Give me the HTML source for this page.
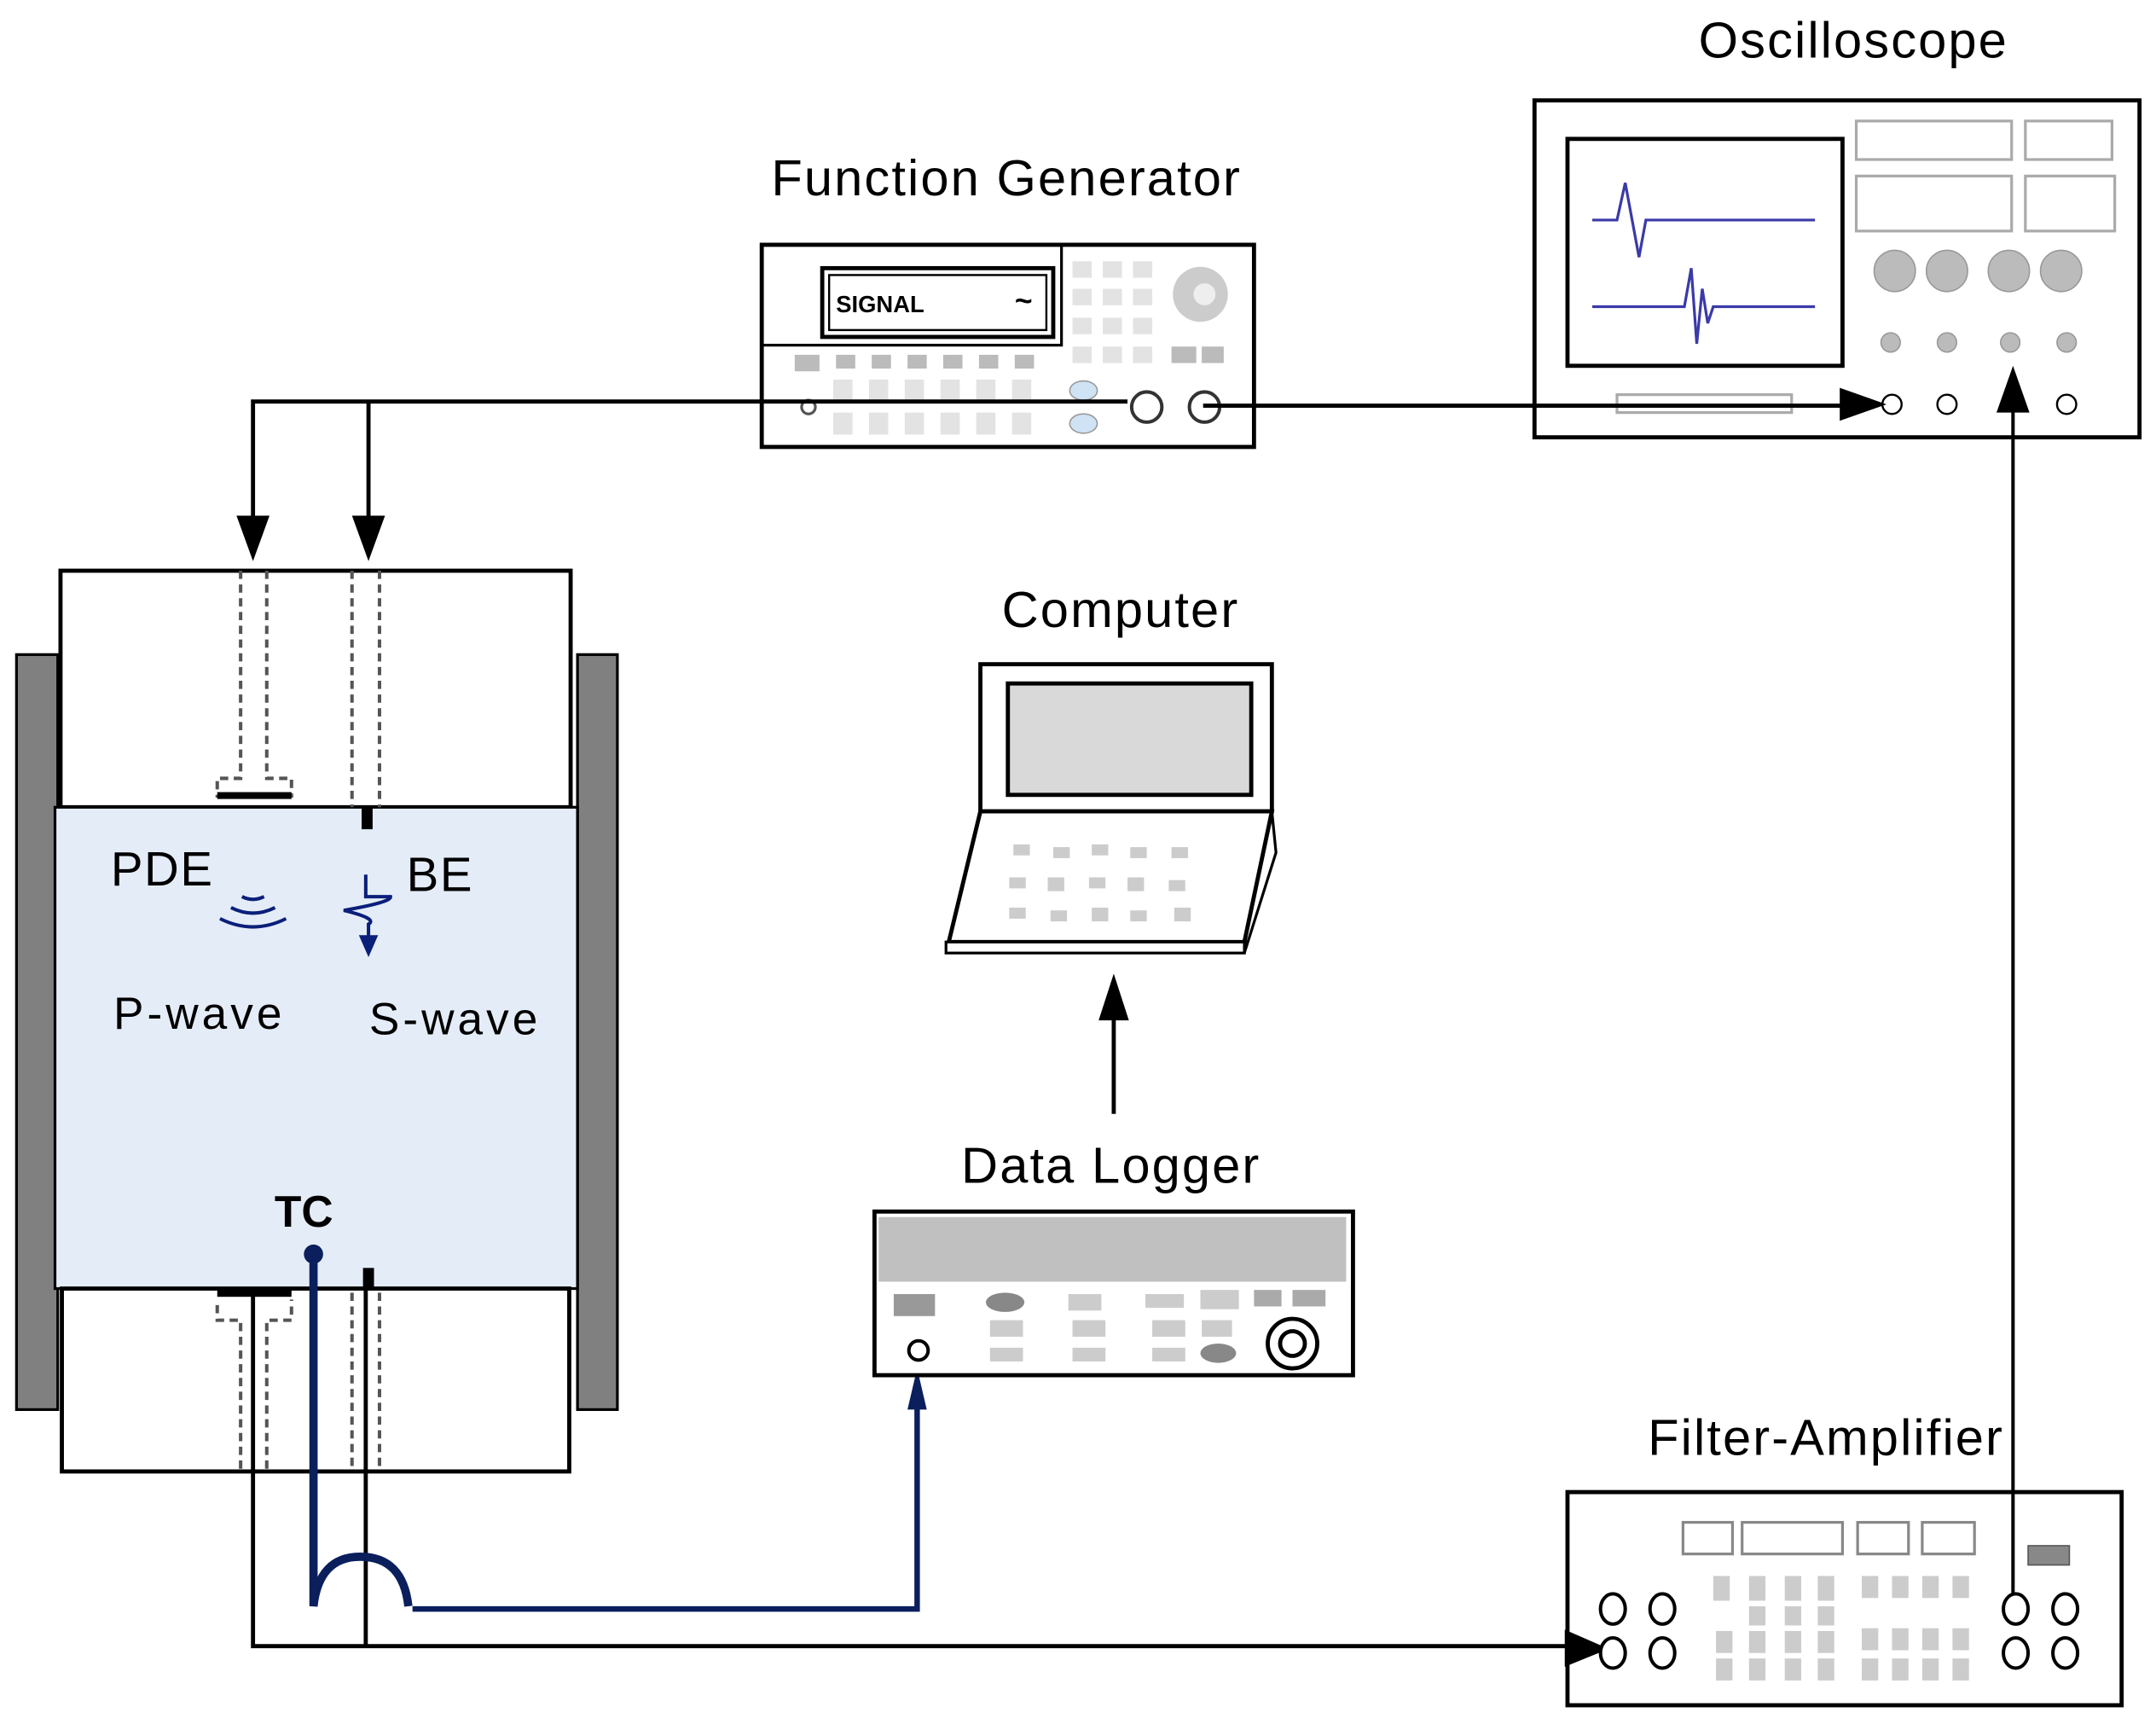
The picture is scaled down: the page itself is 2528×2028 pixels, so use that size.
<!DOCTYPE html>
<html><head><meta charset="utf-8"><style>html,body{margin:0;padding:0;background:#fff}svg{display:block}text{font-family:"Liberation Sans",sans-serif}</style></head><body>
<svg width="2528" height="2028" viewBox="0 0 1568 1258" preserveAspectRatio="none" xmlns="http://www.w3.org/2000/svg">
<rect width="1568" height="1258" fill="#fff"/>
<!-- Oscilloscope -->
<text x="1348" y="42" font-size="37" letter-spacing="1.3" text-anchor="middle">Oscilloscope</text>
<rect x="1116" y="73" width="440" height="245" fill="#fff" stroke="#000" stroke-width="3"/>
<rect x="1140" y="101" width="200" height="165" fill="#fff" stroke="#000" stroke-width="3"/>
<path d="M1158,160 H1176 L1182,133 L1192,187 L1197,160 H1320" fill="none" stroke="#3a3aa8" stroke-width="2"/>
<path d="M1158,223 H1225 L1230,195 L1234,250 L1238,210 L1242,235 L1246,223 H1320" fill="none" stroke="#3a3aa8" stroke-width="2"/>
<g fill="#fff" stroke="#aaa" stroke-width="2">
<rect x="1350" y="88" width="113" height="28"/><rect x="1473" y="88" width="63" height="28"/>
<rect x="1350" y="128" width="113" height="40"/><rect x="1473" y="128" width="65" height="40"/>
<rect x="1176" y="287" width="127" height="13"/></g>
<g fill="#bbb" stroke="#999"><circle cx="1378" cy="197" r="15"/><circle cx="1416" cy="197" r="15"/><circle cx="1461" cy="197" r="15"/><circle cx="1499" cy="197" r="15"/>
<circle cx="1375" cy="249" r="7"/><circle cx="1416" cy="249" r="7"/><circle cx="1462" cy="249" r="7"/><circle cx="1503" cy="249" r="7"/></g>
<g fill="#fff" stroke="#000" stroke-width="1.5"><circle cx="1376" cy="294" r="7"/><circle cx="1416" cy="294" r="7"/><circle cx="1503" cy="294" r="7"/></g>
<!-- Function generator -->
<text x="732" y="142" font-size="37" letter-spacing="1.3" text-anchor="middle">Function Generator</text>
<rect x="554" y="178" width="358" height="147" fill="#fff" stroke="#000" stroke-width="3"/>
<path d="M554,251 H772 V178" fill="none" stroke="#000" stroke-width="2"/>
<rect x="598" y="195" width="168" height="50" fill="#fff" stroke="#000" stroke-width="3"/>
<rect x="603" y="200" width="158" height="40" fill="#fff" stroke="#000" stroke-width="1.5"/>
<text x="608" y="227" font-size="17" font-weight="bold">SIGNAL</text>
<text x="738" y="226" font-size="22" font-weight="bold">~</text>
<g fill="#e3e3e3"><rect x="780" y="190" width="14" height="12"/><rect x="802" y="190" width="14" height="12"/><rect x="824" y="190" width="14" height="12"/>
<rect x="780" y="210" width="14" height="12"/><rect x="802" y="210" width="14" height="12"/><rect x="824" y="210" width="14" height="12"/>
<rect x="780" y="231" width="14" height="12"/><rect x="802" y="231" width="14" height="12"/><rect x="824" y="231" width="14" height="12"/>
<rect x="780" y="252" width="14" height="12"/><rect x="802" y="252" width="14" height="12"/><rect x="824" y="252" width="14" height="12"/>
<rect x="606" y="276" width="14" height="16"/><rect x="632" y="276" width="14" height="16"/><rect x="658" y="276" width="14" height="16"/><rect x="684" y="276" width="14" height="16"/><rect x="710" y="276" width="14" height="16"/><rect x="736" y="276" width="14" height="16"/>
<rect x="606" y="300" width="14" height="16"/><rect x="632" y="300" width="14" height="16"/><rect x="658" y="300" width="14" height="16"/><rect x="684" y="300" width="14" height="16"/><rect x="710" y="300" width="14" height="16"/><rect x="736" y="300" width="14" height="16"/></g>
<g fill="#bbb"><rect x="578" y="258" width="18" height="12"/><rect x="608" y="258" width="14" height="10"/><rect x="634" y="258" width="14" height="10"/><rect x="660" y="258" width="14" height="10"/><rect x="686" y="258" width="14" height="10"/><rect x="712" y="258" width="14" height="10"/><rect x="738" y="258" width="14" height="10"/>
<rect x="852" y="252" width="18" height="12"/><rect x="874" y="252" width="16" height="12"/></g>
<circle cx="873" cy="214" r="20" fill="#ccc"/><circle cx="876" cy="214" r="8" fill="#eee"/>
<ellipse cx="788" cy="284" rx="10" ry="7" fill="#cfe3f5" stroke="#999"/><ellipse cx="788" cy="308" rx="10" ry="7" fill="#cfe3f5" stroke="#999"/>
<circle cx="588" cy="296" r="5" fill="#fff" stroke="#555" stroke-width="2"/>
<circle cx="834" cy="296" r="11" fill="#fff" stroke="#333" stroke-width="2.5"/>
<circle cx="876" cy="296" r="11" fill="#fff" stroke="#333" stroke-width="2.5"/>
<!-- wires top -->
<path d="M820,292 H184 V400" fill="none" stroke="#000" stroke-width="3"/>
<path d="M268,292 V400" fill="none" stroke="#000" stroke-width="3"/>
<path d="M172,375 L196,375 L184,408z M256,375 L280,375 L268,408z" fill="#000"/>
<path d="M875,295 H1345" stroke="#000" stroke-width="3"/>
<path d="M1338,282 L1372,294 L1338,306z" fill="#000"/>
<!-- Cell -->
<rect x="12" y="476" width="30" height="549" fill="#808080" stroke="#000" stroke-width="2"/>
<rect x="420" y="476" width="29" height="549" fill="#808080" stroke="#000" stroke-width="2"/>
<rect x="44" y="415" width="371" height="172" fill="#fff" stroke="#000" stroke-width="3"/>
<rect x="40" y="587" width="380" height="350" fill="#e4ecf7" stroke="#000" stroke-width="2"/>
<rect x="45" y="937" width="369" height="133" fill="#fff" stroke="#000" stroke-width="3"/>
<g fill="none" stroke="#555" stroke-width="2.5" stroke-dasharray="6,4">
<path d="M175,415 V566 H158 V580"/><path d="M194,415 V566 H212 V580"/>
<path d="M256,415 V587"/><path d="M276,415 V587"/>
<path d="M175,1068 V960 H158 V945"/><path d="M194,1068 V960 H212 V945"/>
<path d="M256,940 V1068"/><path d="M276,940 V1068"/>
</g>
<rect x="158" y="576" width="54" height="5" fill="#000"/>
<rect x="158" y="938" width="54" height="5" fill="#000"/>
<rect x="263" y="587" width="8" height="16" fill="#000"/>
<rect x="264" y="922" width="8" height="15" fill="#000"/>
<text x="118" y="644" font-size="35" letter-spacing="1" text-anchor="middle">PDE</text>
<text x="320" y="648" font-size="35" letter-spacing="1" text-anchor="middle">BE</text>
<text x="145" y="748" font-size="33" letter-spacing="2.5" text-anchor="middle">P-wave</text>
<text x="331" y="752" font-size="33" letter-spacing="2.5" text-anchor="middle">S-wave</text>
<text x="221" y="892" font-size="32" font-weight="bold" text-anchor="middle">TC</text>
<g fill="none" stroke="#0a1f7a" stroke-width="2.5"><path d="M160,668 Q184,680 208,668"/><path d="M168,660 Q184,668 200,660"/><path d="M176,652 Q184,656 192,652"/>
<path d="M266,636 V652 H284 Q285,656 250,662 Q275,668 268,672 V685"/></g>
<path d="M261,680 L275,680 L268,696z" fill="#0a1f7a"/>
<!-- bottom wires -->
<path d="M184,942 V1197 H1140" fill="none" stroke="#000" stroke-width="3"/>
<path d="M266,925 V1197" stroke="#000" stroke-width="3"/>
<circle cx="228" cy="912" r="7" fill="#0a1f5c"/>
<path d="M228,912 V1168 Q232,1132 262,1132 Q293,1132 297,1168" fill="none" stroke="#0a1f5c" stroke-width="6"/>
<path d="M300,1170 H667 V1020" fill="none" stroke="#0a1f5c" stroke-width="4"/>
<path d="M660,1025 L667,995 L674,1025z" fill="#0a1f5c"/>
<!-- Computer -->
<text x="815" y="456" font-size="37" letter-spacing="1.3" text-anchor="middle">Computer</text>
<rect x="713" y="483" width="212" height="107" fill="#fff" stroke="#000" stroke-width="3"/>
<rect x="733" y="497" width="177" height="81" fill="#d9d9d9" stroke="#000" stroke-width="3"/>
<path d="M713,590 H925 L905,685 H690z" fill="#fff" stroke="#000" stroke-width="3"/>
<path d="M925,590 L928,620 L905,693" fill="none" stroke="#000" stroke-width="2"/>
<rect x="688" y="685" width="217" height="8" fill="#fff" stroke="#000" stroke-width="2"/>
<g fill="#ccc"><rect x="737" y="614" width="12" height="8"/><rect x="766" y="616" width="12" height="8"/><rect x="794" y="614" width="12" height="8"/><rect x="822" y="616" width="12" height="8"/><rect x="852" y="616" width="12" height="8"/>
<rect x="734" y="638" width="12" height="8"/><rect x="762" y="638" width="12" height="10"/><rect x="792" y="638" width="12" height="8"/><rect x="820" y="638" width="12" height="10"/><rect x="850" y="640" width="12" height="8"/>
<rect x="734" y="660" width="12" height="8"/><rect x="764" y="662" width="12" height="8"/><rect x="794" y="660" width="12" height="10"/><rect x="822" y="662" width="12" height="8"/><rect x="854" y="660" width="12" height="10"/></g>
<path d="M810,810 V735" stroke="#000" stroke-width="3"/>
<path d="M799,742 L810,708 L821,742z" fill="#000"/>
<!-- Data logger -->
<text x="808" y="860" font-size="37" letter-spacing="1.3" text-anchor="middle">Data Logger</text>
<rect x="636" y="881" width="348" height="119" fill="#fff" stroke="#000" stroke-width="3"/>
<rect x="639" y="885" width="340" height="47" fill="#c0c0c0"/>
<g fill="#ccc"><rect x="650" y="941" width="30" height="16" fill="#999"/><ellipse cx="731" cy="947" rx="14" ry="7" fill="#888"/>
<rect x="777" y="941" width="24" height="12"/><rect x="833" y="941" width="28" height="10"/><rect x="873" y="938" width="28" height="14"/><rect x="912" y="938" width="20" height="12" fill="#aaa"/><rect x="940" y="938" width="24" height="12" fill="#aaa"/>
<rect x="720" y="960" width="24" height="12"/><rect x="780" y="960" width="24" height="12"/><rect x="838" y="960" width="24" height="12"/><rect x="874" y="960" width="22" height="12"/>
<rect x="720" y="980" width="24" height="10"/><rect x="780" y="980" width="24" height="10"/><rect x="838" y="980" width="24" height="10"/><ellipse cx="886" cy="984" rx="13" ry="7" fill="#888"/></g>
<circle cx="668" cy="982" r="7" fill="#fff" stroke="#000" stroke-width="2.5"/>
<circle cx="940" cy="977" r="18" fill="#fff" stroke="#000" stroke-width="3"/><circle cx="940" cy="977" r="9" fill="#fff" stroke="#000" stroke-width="3"/>
<!-- Filter-amplifier -->
<text x="1328" y="1058" font-size="37" letter-spacing="1.3" text-anchor="middle">Filter-Amplifier</text>
<rect x="1140" y="1085" width="403" height="155" fill="#fff" stroke="#000" stroke-width="3"/>
<g fill="#fff" stroke="#888" stroke-width="2"><rect x="1224" y="1107" width="36" height="23"/><rect x="1267" y="1107" width="73" height="23"/><rect x="1351" y="1107" width="37" height="23"/><rect x="1398" y="1107" width="38" height="23"/></g>
<rect x="1475" y="1124" width="30" height="14" fill="#888" stroke="#555"/>
<g fill="#ccc">
<rect x="1246" y="1146" width="12" height="18"/><rect x="1272" y="1146" width="12" height="18"/><rect x="1298" y="1146" width="12" height="18"/><rect x="1322" y="1146" width="12" height="18"/>
<rect x="1354" y="1146" width="12" height="16"/><rect x="1376" y="1146" width="12" height="16"/><rect x="1398" y="1146" width="12" height="16"/><rect x="1420" y="1146" width="12" height="16"/>
<rect x="1272" y="1168" width="12" height="14"/><rect x="1298" y="1168" width="12" height="14"/><rect x="1322" y="1168" width="12" height="14"/>
<rect x="1248" y="1186" width="12" height="16"/><rect x="1272" y="1186" width="12" height="16"/><rect x="1298" y="1186" width="12" height="16"/><rect x="1322" y="1186" width="12" height="16"/>
<rect x="1354" y="1184" width="12" height="16"/><rect x="1376" y="1184" width="12" height="16"/><rect x="1398" y="1184" width="12" height="16"/><rect x="1420" y="1184" width="12" height="16"/>
<rect x="1248" y="1206" width="12" height="16"/><rect x="1272" y="1206" width="12" height="16"/><rect x="1298" y="1206" width="12" height="16"/><rect x="1322" y="1206" width="12" height="16"/>
<rect x="1354" y="1206" width="12" height="16"/><rect x="1376" y="1206" width="12" height="16"/><rect x="1398" y="1206" width="12" height="16"/><rect x="1420" y="1206" width="12" height="16"/></g>
<path d="M1140,1197 H1150" stroke="#000" stroke-width="3"/>
<path d="M1138,1185 L1170,1199 L1138,1212z" fill="#000"/>
<path d="M1464,1160 V295" stroke="#000" stroke-width="2.5"/>
<path d="M1452,300 L1464,266 L1476,300z" fill="#000"/>
<g fill="#fff" stroke="#000" stroke-width="2.5">
<ellipse cx="1173" cy="1170" rx="9" ry="11"/><ellipse cx="1209" cy="1170" rx="9" ry="11"/><ellipse cx="1173" cy="1202" rx="9" ry="11"/><ellipse cx="1209" cy="1202" rx="9" ry="11"/>
<ellipse cx="1466" cy="1170" rx="9" ry="11"/><ellipse cx="1502" cy="1170" rx="9" ry="11"/><ellipse cx="1466" cy="1202" rx="9" ry="11"/><ellipse cx="1502" cy="1202" rx="9" ry="11"/></g>
</svg>
</body></html>
